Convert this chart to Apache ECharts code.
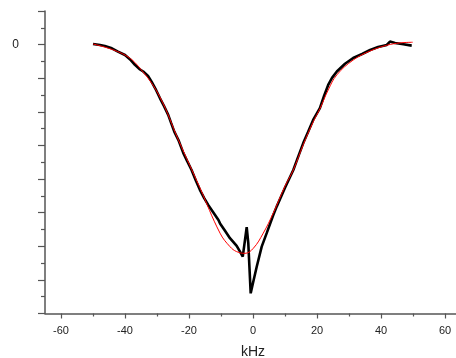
<!DOCTYPE html>
<html><head><meta charset="utf-8">
<script src="https://cdn.jsdelivr.net/npm/echarts@6/dist/echarts.min.js"></script>
<style>html,body{margin:0;padding:0;background:#fff}#c{width:456px;height:358px}</style>
</head><body><div id="c"></div>
<script>
// Measured (black) spectrum
var measX = [-50,-47.8,-46.3,-44.1,-42.2,-40,-38.4,-36.9,-35.3,-34.3,-32.8,-31.7,-30.3,-29.1,-27.8,-26.5,-25.6,-24.6,-23.3,-21.8,-20.6,-19.2,-17.8,-16.6,-15.3,-14.0,-12.5,-10.8,-10.3,-8.75,-7.2,-5.1,-4.06,-3.2,-2.5,-1.97,-1.47,-0.72,0.1,1.16,2.72,4.28,6.34,7.4,10,12.6,14.1,15.7,17.2,18.8,20.9,22.2,23.5,24.7,26.2,28.75,31.3,34.1,36.6,39.1,41.8,42.8,44.4,47.0,49.6];
var measY = [0.02,-0.01,-0.04,-0.11,-0.21,-0.31,-0.44,-0.60,-0.74,-0.80,-0.93,-1.10,-1.35,-1.59,-1.83,-2.09,-2.33,-2.59,-2.84,-3.22,-3.46,-3.73,-4.06,-4.32,-4.56,-4.77,-4.98,-5.22,-5.32,-5.54,-5.76,-5.99,-6.16,-6.31,-5.81,-5.43,-5.91,-7.40,-7.05,-6.61,-6.01,-5.61,-5.07,-4.82,-4.26,-3.73,-3.34,-2.93,-2.60,-2.24,-1.89,-1.53,-1.20,-0.99,-0.80,-0.57,-0.40,-0.28,-0.16,-0.07,-0.01,0.09,0.05,0.01,-0.03];
// Fitted (red) curve
var fitX = [-50,-40,-34.4,-29.1,-23.3,-16.6,-10.3,-7.2,-5.1,-2.5,0.1,3.2,6.3,10,12.6,15.7,18.8,20.9,23.5,26.2,31.3,36.6,41.8,45.9,49.9];
var fitY = [0.02,-0.31,-0.81,-1.56,-2.84,-4.26,-5.61,-6.01,-6.16,-6.21,-6.06,-5.61,-5.02,-4.21,-3.73,-2.98,-2.30,-1.91,-1.35,-0.90,-0.46,-0.19,-0.02,0.05,0.07];
var xMajorTicks = [-60,-40,-20,0,20,40,60];
var xMinorTicks = [-50,-30,-10,10,30,50];

function zip(a,b){return a.map(function(v,i){return [v,b[i]];});}

var axisCol = '#555';
var chart = echarts.init(document.getElementById('c'), null, {renderer:'canvas'});
chart.setOption({
  animation:false,
  backgroundColor:'#fff',
  grid:{left:45, top:11, width:416, height:302.5, containLabel:false, outerBoundsMode:'none'},
  xAxis:[{
    type:'value', min:-65, max:65,
    name:'kHz', nameLocation:'middle', nameGap:32,
    nameTextStyle:{fontFamily:'Liberation Sans', fontSize:14, color:'#222'},
    axisLine:{show:true, onZero:false, lineStyle:{color:axisCol, width:1.5}},
    axisTick:{show:true, inside:false, length:5, customValues:xMajorTicks, lineStyle:{color:axisCol, width:1.2}},
    axisLabel:{show:true, customValues:xMajorTicks, margin:12, fontFamily:'Liberation Sans', fontSize:11, color:'#222'},
    splitLine:{show:false}
  },{
    type:'value', min:-65, max:65, position:'bottom',
    axisLine:{show:false, onZero:false},
    axisTick:{show:true, inside:false, length:3, customValues:xMinorTicks, lineStyle:{color:axisCol, width:1.2}},
    axisLabel:{show:false},
    splitLine:{show:false}
  }],
  yAxis:{
    type:'value', min:-8, max:1, interval:1,
    axisLine:{show:true, onZero:false, lineStyle:{color:axisCol, width:1.5}},
    axisTick:{show:true, inside:false, length:7, lineStyle:{color:axisCol, width:1.2}},
    minorTick:{show:true, splitNumber:2, length:4, lineStyle:{color:axisCol, width:1.2}},
    axisLabel:{margin:26, fontFamily:'Liberation Sans', fontSize:12, color:'#222',
      formatter:function(v){return v===0?'0':'';}},
    splitLine:{show:false}, minorSplitLine:{show:false}
  },
  series:[{
    type:'line', data:zip(measX,measY), showSymbol:false, symbol:'none', smooth:false,
    lineStyle:{color:'#000', width:2.6}, z:2
  },{
    type:'line', data:zip(fitX,fitY), showSymbol:false, symbol:'none', smooth:0.4,
    lineStyle:{color:'#ff0000', width:1}, z:3
  }]
});
</script></body></html>
